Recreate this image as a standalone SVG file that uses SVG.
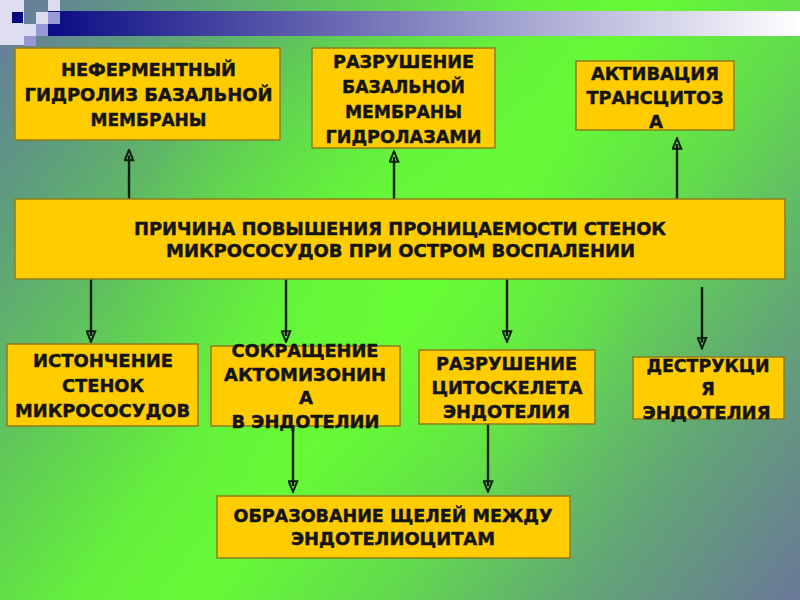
<svg xmlns="http://www.w3.org/2000/svg" width="800" height="600" viewBox="0 0 800 600">
<defs>
<linearGradient id="bg" gradientUnits="userSpaceOnUse" x1="0" y1="0" x2="800" y2="600">
<stop offset="0" stop-color="#6878a0"/>
<stop offset="0.12" stop-color="#5e9a80"/>
<stop offset="0.28" stop-color="#60c858"/>
<stop offset="0.42" stop-color="#64f03c"/>
<stop offset="0.52" stop-color="#66fa36"/>
<stop offset="0.66" stop-color="#62dc4c"/>
<stop offset="0.82" stop-color="#62a676"/>
<stop offset="1" stop-color="#6a7898"/>
</linearGradient>
<radialGradient id="glow" gradientUnits="userSpaceOnUse" cx="380" cy="280" r="260">
<stop offset="0" stop-color="#66ff33" stop-opacity="0.6"/>
<stop offset="1" stop-color="#66ff33" stop-opacity="0"/>
</radialGradient>
<linearGradient id="band" gradientUnits="userSpaceOnUse" x1="48" y1="0" x2="800" y2="0">
<stop offset="0" stop-color="#0c0c84"/>
<stop offset="1" stop-color="#ffffff"/>
</linearGradient>
<marker id="arr" markerUnits="userSpaceOnUse" viewBox="0 0 13 11" markerWidth="13" markerHeight="11" refX="6" refY="5.5" orient="auto">
<path d="M1.2,1.2 L11.8,5.5 L1.2,9.8 Z" fill="none" stroke="#0f1f0f" stroke-width="2" stroke-linejoin="miter"/>
</marker>
<style>
.box{fill:#ffcc00;stroke:#8c7d1c;stroke-width:1.5}
.t{font-family:"DejaVu Sans","Liberation Sans",sans-serif;font-weight:bold;font-size:18px;fill:#141414;stroke:#141414;stroke-width:0.45;text-anchor:middle}
.c{stroke:#0f1f0f;stroke-width:2.4;fill:none;marker-end:url(#arr)}
</style>
</defs>

<rect width="800" height="600" fill="url(#bg)"/>
<rect width="800" height="600" fill="url(#glow)"/>

<g id="decor">
<rect x="48" y="11" width="752" height="25" fill="url(#band)"/>
<rect x="0" y="0" width="24" height="45" fill="#dedef0"/>
<rect x="12" y="12" width="11" height="11" fill="#0a0a80"/>
<rect x="48" y="0" width="12" height="11" fill="#dcdcf0"/>
<rect x="36" y="12" width="12" height="12" fill="#dcdcf0"/>
<rect x="48" y="12" width="12" height="12" fill="#9a9ad8"/>
<rect x="24" y="24" width="12" height="12" fill="#dcdcf0"/>
<rect x="36" y="24" width="12" height="12" fill="#9898d8"/>
<rect x="24" y="36" width="12" height="10" fill="#9898d0"/>
</g>

<g id="connectors">
<line class="c" x1="129" y1="199" x2="129" y2="155.5"/>
<line class="c" x1="394" y1="199" x2="394" y2="157"/>
<line class="c" x1="677" y1="199" x2="677" y2="144"/>
<line class="c" x1="91" y1="279" x2="91" y2="336"/>
<line class="c" x1="286" y1="279" x2="286" y2="336"/>
<line class="c" x1="507" y1="279" x2="507" y2="336"/>
<line class="c" x1="702" y1="287" x2="702" y2="342.5"/>
<line class="c" x1="293" y1="426" x2="293" y2="486"/>
<line class="c" x1="488" y1="424" x2="488" y2="486"/>
</g>

<g id="n1">
<rect class="box" x="15" y="48" width="265" height="92"/>
<text class="t" x="148.5" y="76" textLength="175" lengthAdjust="spacingAndGlyphs">НЕФЕРМЕНТНЫЙ</text>
<text class="t" x="148.5" y="101" textLength="248" lengthAdjust="spacingAndGlyphs">ГИДРОЛИЗ БАЗАЛЬНОЙ</text>
<text class="t" x="148.5" y="126" textLength="116" lengthAdjust="spacingAndGlyphs">МЕМБРАНЫ</text>
</g>

<g id="n2">
<rect class="box" x="312" y="48" width="183" height="100"/>
<text class="t" x="403.5" y="68" textLength="141" lengthAdjust="spacingAndGlyphs">РАЗРУШЕНИЕ</text>
<text class="t" x="403.5" y="93" textLength="123" lengthAdjust="spacingAndGlyphs">БАЗАЛЬНОЙ</text>
<text class="t" x="403.5" y="118" textLength="117" lengthAdjust="spacingAndGlyphs">МЕМБРАНЫ</text>
<text class="t" x="403.5" y="143" textLength="156" lengthAdjust="spacingAndGlyphs">ГИДРОЛАЗАМИ</text>
</g>

<g id="n3">
<rect class="box" x="576" y="61" width="158" height="69"/>
<text class="t" x="655" y="79.5" textLength="128" lengthAdjust="spacingAndGlyphs">АКТИВАЦИЯ</text>
<text class="t" x="655" y="104" textLength="137" lengthAdjust="spacingAndGlyphs">ТРАНСЦИТОЗ</text>
<text class="t" x="656" y="128">А</text>
</g>

<g id="n0">
<rect class="box" x="15" y="199" width="770" height="80"/>
<text class="t" x="400" y="235" textLength="532" lengthAdjust="spacingAndGlyphs">ПРИЧИНА ПОВЫШЕНИЯ ПРОНИЦАЕМОСТИ СТЕНОК</text>
<text class="t" x="400.5" y="257" textLength="469" lengthAdjust="spacingAndGlyphs">МИКРОСОСУДОВ ПРИ ОСТРОМ ВОСПАЛЕНИИ</text>
</g>

<g id="n4">
<rect class="box" x="7" y="344" width="191" height="82"/>
<text class="t" x="103" y="367" textLength="140" lengthAdjust="spacingAndGlyphs">ИСТОНЧЕНИЕ</text>
<text class="t" x="103" y="392" textLength="82" lengthAdjust="spacingAndGlyphs">СТЕНОК</text>
<text class="t" x="102.5" y="417" textLength="175" lengthAdjust="spacingAndGlyphs">МИКРОСОСУДОВ</text>
</g>

<g id="n5">
<rect class="box" x="211" y="346" width="189" height="80"/>
<text class="t" x="305" y="357" textLength="147" lengthAdjust="spacingAndGlyphs">СОКРАЩЕНИЕ</text>
<text class="t" x="305" y="381" textLength="162" lengthAdjust="spacingAndGlyphs">АКТОМИЗОНИН</text>
<text class="t" x="306" y="404">А</text>
<text class="t" x="305.5" y="428" textLength="148" lengthAdjust="spacingAndGlyphs">В ЭНДОТЕЛИИ</text>
</g>

<g id="n6">
<rect class="box" x="419" y="350" width="176" height="74"/>
<text class="t" x="506.5" y="369.5" textLength="141" lengthAdjust="spacingAndGlyphs">РАЗРУШЕНИЕ</text>
<text class="t" x="507" y="393.5" textLength="151" lengthAdjust="spacingAndGlyphs">ЦИТОСКЕЛЕТА</text>
<text class="t" x="506.5" y="417.5" textLength="127" lengthAdjust="spacingAndGlyphs">ЭНДОТЕЛИЯ</text>
</g>

<g id="n7">
<rect class="box" x="633" y="357" width="151" height="62"/>
<text class="t" x="708" y="372" textLength="123" lengthAdjust="spacingAndGlyphs">ДЕСТРУКЦИ</text>
<text class="t" x="708" y="395">Я</text>
<text class="t" x="706.5" y="418.5" textLength="128" lengthAdjust="spacingAndGlyphs">ЭНДОТЕЛИЯ</text>
</g>

<g id="n8">
<rect class="box" x="217" y="496" width="353" height="62"/>
<text class="t" x="393" y="522" textLength="319" lengthAdjust="spacingAndGlyphs">ОБРАЗОВАНИЕ ЩЕЛЕЙ МЕЖДУ</text>
<text class="t" x="393" y="545" textLength="204" lengthAdjust="spacingAndGlyphs">ЭНДОТЕЛИОЦИТАМ</text>
</g>
</svg>
